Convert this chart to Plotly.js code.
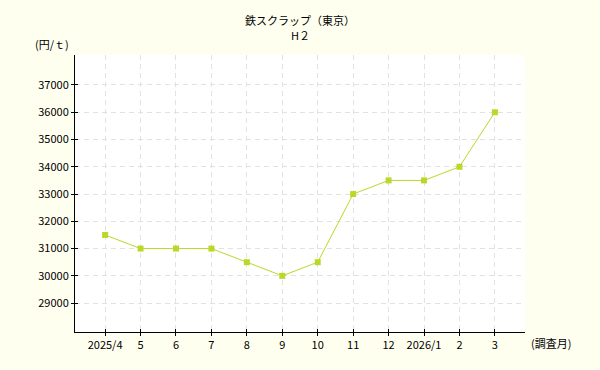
<!DOCTYPE html>
<html><head><meta charset="utf-8">
<script src="https://cdn.plot.ly/plotly-3.0.1.min.js"></script>
<style>html,body{margin:0;padding:0;background:#fffff0;}</style>
</head><body>
<div id="chart" style="width:600px;height:370px;"></div>
<script>
const months = ["2025/4","5","6","7","8","9","10","11","12","2026/1","2","3"];
const prices = [31500,31000,31000,31000,30500,30000,30500,33000,33500,33500,34000,36000];
const yTicks = [29000,30000,31000,32000,33000,34000,35000,36000,37000];
const titleLines = ["鉄スクラップ（東京）", "H２"];

const F = '"Noto Sans CJK JP", "DejaVu Sans", sans-serif';
const xIdx = months.map((m,i)=>i);

const trace = {
  x: xIdx, y: prices, type: 'scatter', mode: 'lines+markers',
  line: {color: '#b8d928', width: 1},
  marker: {color: '#b8d928', symbol: 'square', size: 6},
  hoverinfo: 'skip', showlegend: false
};
const ghost = {x: xIdx, y: prices, xaxis: 'x2', yaxis: 'y2', type: 'scatter', mode: 'none', showlegend: false, hoverinfo: 'skip'};

const xr = [-0.85, 11.85], yr = [27940, 38100];
const layout = {
  width: 600, height: 370,
  paper_bgcolor: '#fffff0', plot_bgcolor: '#ffffff',
  margin: {l: 75, r: 75, t: 55, b: 38},
  font: {family: F, size: 11, color: '#000'},
  xaxis: {
    range: xr, tickvals: xIdx, ticktext: months, showline: true, linecolor: '#000', linewidth: 1,
    ticks: 'outside', ticklen: 3, tickcolor: '#000', showgrid: true, gridcolor: '#e2e2e2', griddash: '5px,4px',
    zeroline: false, fixedrange: true, tickfont: {family: F, size: 11}
  },
  yaxis: {
    range: yr, tickvals: yTicks, ticktext: yTicks.map(String), showline: true, linecolor: '#000', linewidth: 1,
    ticks: 'outside', ticklen: 3, tickcolor: '#000', showgrid: true, gridcolor: '#e2e2e2', griddash: '5px,4px',
    zeroline: false, fixedrange: true, tickfont: {family: F, size: 11}
  },
  xaxis2: {overlaying: 'x', range: xr, tickvals: xIdx, showticklabels: false, ticks: 'inside', ticklen: 3, tickcolor: '#000', showgrid: false, zeroline: false, showline: false, side: 'bottom'},
  yaxis2: {overlaying: 'y', range: yr, tickvals: yTicks, showticklabels: false, ticks: 'inside', ticklen: 3, tickcolor: '#000', showgrid: false, zeroline: false, showline: false, side: 'left'},
  annotations: [
    {text: titleLines[0], xref: 'paper', yref: 'paper', x: 0.5, y: 1, xanchor: 'center', yanchor: 'middle', yshift: 35, showarrow: false, font: {family: F, size: 11}},
    {text: titleLines[1], xref: 'paper', yref: 'paper', x: 0.5, y: 1, xanchor: 'center', yanchor: 'middle', yshift: 20, showarrow: false, font: {family: F, size: 11}},
    {text: '(円/ｔ)', xref: 'paper', yref: 'paper', x: -0.051, y: 1.0, xanchor: 'center', yanchor: 'middle', yshift: 11, showarrow: false, font: {family: F, size: 11}},
    {text: '(調査月)', xref: 'paper', yref: 'paper', x: 1.008, y: 0, xanchor: 'left', yanchor: 'middle', yshift: -11, showarrow: false, font: {family: F, size: 11}}
  ]
};
Plotly.newPlot('chart', [trace, ghost], layout, {displayModeBar: false, staticPlot: true});
</script>
</body></html>
